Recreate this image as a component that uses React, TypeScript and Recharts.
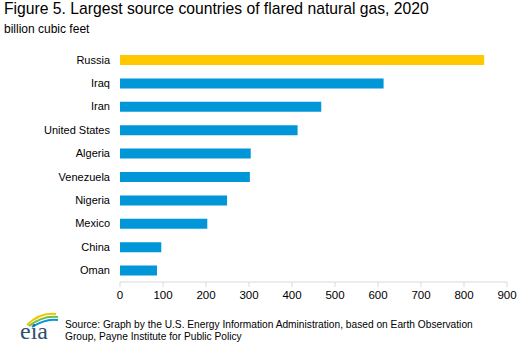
import { Bar, BarChart, Cell, XAxis, YAxis } from 'recharts'

// Countries, top to bottom.
const countries = [
  'Russia',
  'Iraq',
  'Iran',
  'United States',
  'Algeria',
  'Venezuela',
  'Nigeria',
  'Mexico',
  'China',
  'Oman',
]

// Flared gas, billion cubic feet.
const flaredGas = [847, 613, 468, 413, 304, 302, 249, 203, 96, 86]

// X-axis ticks.
const xTicks = [0, 100, 200, 300, 400, 500, 600, 700, 800, 900]

const highlighted = 'Russia'

const data = countries.map((name, i) => ({ name, value: flaredGas[i] }))

const font = 'Arial, "Liberation Sans", sans-serif'

// Small eia mark drawn as svg.
function EiaLogo() {
  return (
    <svg width={60} height={36} style={{ position: 'absolute', left: 16, top: 308 }}>
      <path d="M 11 17 Q 24 4 40 6" stroke="#f5c400" strokeWidth={2} fill="none" />
      <path d="M 13 18 Q 27 7 42 9" stroke="#6cbe45" strokeWidth={2} fill="none" />
      <path d="M 16 19 Q 30 10 42 12" stroke="#0096d7" strokeWidth={2} fill="none" />
      <text
        x={4}
        y={31}
        fontFamily='"Liberation Serif", "DejaVu Serif", serif'
        fontSize={24}
        fill="#2f4f6f"
      >
        eia
      </text>
    </svg>
  )
}

export default function App() {
  return (
    <div
      style={{
        position: 'absolute',
        left: 0,
        top: 0,
        width: 527,
        height: 356,
        background: '#fff',
        fontFamily: font,
      }}
    >
      <div style={{ position: 'absolute', left: 4, top: 0, fontSize: 15.7, color: '#000' }}>
        Figure 5. Largest source countries of flared natural gas, 2020
      </div>
      <div style={{ position: 'absolute', left: 4, top: 22, fontSize: 12, color: '#000' }}>
        billion cubic feet
      </div>
      <BarChart
        width={527}
        height={356}
        data={data}
        layout="vertical"
        margin={{ top: 48, right: 20, bottom: 44, left: 0 }}
        barCategoryGap={7}
      >
        <XAxis
          type="number"
          domain={[0, 900]}
          ticks={xTicks}
          interval={0}
          axisLine={{ stroke: '#d9d9d9' }}
          tickLine={{ stroke: '#d9d9d9' }}
          tickSize={5}
          tickMargin={4}
          tick={{ fontSize: 11.5, fill: '#000', fontFamily: font }}
        />
        <YAxis
          type="category"
          dataKey="name"
          width={120}
          axisLine={false}
          tickLine={false}
          tickMargin={4}
          interval={0}
          tick={{ fontSize: 11, fill: '#000', fontFamily: font }}
        />
        <Bar dataKey="value" barSize={10} isAnimationActive={false}>
          {data.map((d) => (
            <Cell key={d.name} fill={d.name === highlighted ? '#ffc800' : '#0096d7'} />
          ))}
        </Bar>
      </BarChart>
      <EiaLogo />
      <div
        style={{
          position: 'absolute',
          left: 65,
          top: 319,
          fontSize: 10.2,
          lineHeight: '12px',
          color: '#000',
        }}
      >
        Source: Graph by the U.S. Energy Information Administration, based on Earth Observation
        <br />
        Group, Payne Institute for Public Policy
      </div>
    </div>
  )
}
